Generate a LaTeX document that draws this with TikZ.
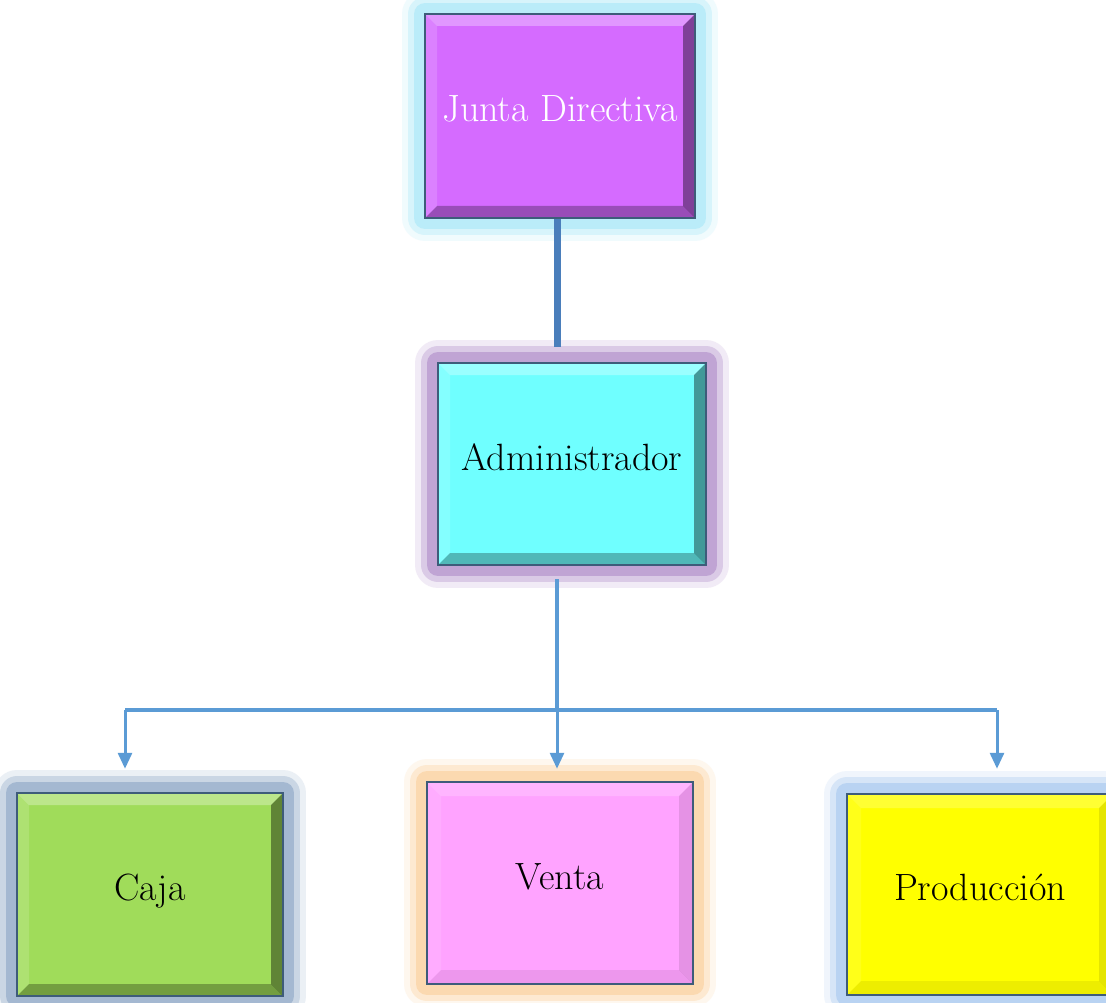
\documentclass[tikz,border=0pt]{standalone}
\usetikzlibrary{arrows.meta}
\definecolor{juntafill}{HTML}{D56BFF}
\definecolor{juntaglow}{HTML}{9FE6F8}
\definecolor{admfill}{HTML}{6FFFFF}
\definecolor{admglow}{HTML}{A77FC4}
\definecolor{cajafill}{HTML}{A0DC5A}
\definecolor{cajaglow}{HTML}{7F9BC0}
\definecolor{ventafill}{HTML}{FFA3FF}
\definecolor{ventaglow}{HTML}{FBCB90}
\definecolor{prodfill}{HTML}{FFFF00}
\definecolor{prodglow}{HTML}{9DC2EE}
\definecolor{edge}{HTML}{3E5C7A}
\definecolor{trunkblue}{HTML}{4A7EBB}
\definecolor{branchblue}{HTML}{5B9BD5}
\newcommand{\bevelfaces}[3]{%
  \coordinate (o1) at (path picture bounding box.north west);
  \coordinate (o2) at (path picture bounding box.north east);
  \coordinate (o3) at (path picture bounding box.south east);
  \coordinate (o4) at (path picture bounding box.south west);
  \coordinate (i1) at ([shift={(#1,-#1)}]o1);
  \coordinate (i2) at ([shift={(-#1,-#1)}]o2);
  \coordinate (i3) at ([shift={(-#1,#1)}]o3);
  \coordinate (i4) at ([shift={(#1,#1)}]o4);
  \fill[white,opacity=#2] (o1) -- (o2) -- (i2) -- (i1) -- cycle;
  \fill[white,opacity=#2*0.5] (o1) -- (i1) -- (i4) -- (o4) -- cycle;
  \fill[black,opacity=#3] (o2) -- (o3) -- (i3) -- (i2) -- cycle;
  \fill[black,opacity=#3*0.7] (o4) -- (i4) -- (i3) -- (o3) -- cycle;
}
\tikzset{
  orgbox/.style={draw=edge, line width=2.5pt, minimum width=266pt,
    minimum height=202pt, inner sep=0pt, text height=26pt, text depth=14pt,
    font=\fontsize{38}{44}\selectfont},
  glow/.style={preaction={draw=#1, opacity=.15, line width=46pt, line join=round},
    preaction={draw=#1, opacity=.3, line width=34pt, line join=round},
    preaction={draw=#1, opacity=.5, line width=22pt, line join=round}},
  deepbevel/.style={path picture={\bevelfaces{12pt}{.3}{.4}}},
  flatbevel/.style={path picture={\bevelfaces{14pt}{.2}{.1}}},
  trunk/.style={draw=trunkblue, line width=7pt},
  branch/.style={draw=branchblue, line width=4pt},
  pointer/.style={draw=branchblue, line width=3pt, -{Triangle[width=14pt,length=16pt]}}
}
\begin{document}
\begin{tikzpicture}[x=1pt, y=-1pt]
  \useasboundingbox[fill=white] (0,0) rectangle (1106,1003);
  \node[orgbox, glow=juntaglow, deepbevel, fill=juntafill, text=white,
    minimum width=270pt, minimum height=204pt] (jd) at (560,116) {Junta Directiva};
  \node[orgbox, glow=admglow, deepbevel, fill=admfill, minimum width=268pt] (adm) at (572,464) {Administrador};
  \node[orgbox, glow=cajaglow, deepbevel, fill=cajafill, minimum height=203pt] (caja) at (150,894.5) {Caja};
  \node[orgbox, glow=ventaglow, flatbevel, fill=ventafill] (venta) at (560,883) {Venta};
  \node[orgbox, glow=prodglow, flatbevel, fill=prodfill, minimum height=201pt] (prod) at (980,894.5) {Producción};
  \coordinate (bus) at (557,710);
  \coordinate (busl) at (125,710);
  \coordinate (busr) at (997,710);
  \draw[trunk, shorten >=15pt] (jd.south -| bus) -- (adm.north -| bus);
  \draw[branch, shorten <=13pt] (adm.south -| bus) -- (bus);
  \draw[branch] (busl) -- (busr);
  \draw[pointer, shorten >=23pt] (busl) -- (busl |- caja.north);
  \draw[pointer, shorten >=12pt] (bus) -- (bus |- venta.north);
  \draw[pointer, shorten >=24pt] (busr) -- (busr |- prod.north);
\end{tikzpicture}
\end{document}
